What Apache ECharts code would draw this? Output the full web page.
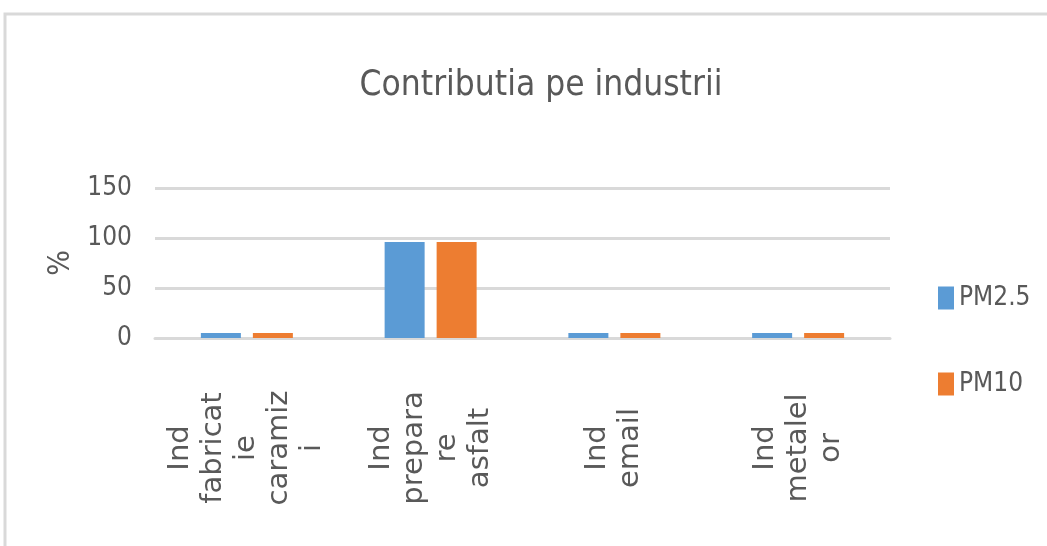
<!DOCTYPE html>
<html>
<head>
<meta charset="utf-8">
<script src="https://cdn.jsdelivr.net/npm/echarts@6/dist/echarts.min.js"></script>
<style>
  html, body { margin: 0; padding: 0; background: #fff; }
  #chart { width: 1047px; height: 546px; }
</style>
</head>
<body>
<div id="chart"></div>
<script>
// categorii (etichete pe mai multe randuri, ca in original)
const categories = [
	'Ind\nfabricat\nie\ncaramiz\ni',
	'Ind\nprepara\nre\nasfalt',
	'Ind\nemail',
	'Ind\nmetalel\nor'
];
const pm25 = [5, 96, 5, 5];
const pm10 = [5, 96, 5, 5];
const yTicks = [0, 50, 100, 150];

const chart = echarts.init(document.getElementById('chart'), null, { renderer: 'canvas' });

const narrow = '"Liberation Sans Narrow", "DejaVu Sans Condensed", sans-serif';

let option = {
	backgroundColor: '#fff',
	animation: false,
	title: {
		text: 'Contributia pe industrii',
		left: 'center',
		left: 536,
		textAlign: 'center',
		top: 63,
		textStyle: {
			fontFamily: narrow,
			fontWeight: 'normal',
			fontSize: 35,
			color: '#595959'
		}
	},
	graphic: [{
		type: 'rect',
		shape: { x: 5, y: 14, width: 1060, height: 560 },
		style: { fill: 'none', stroke: '#d9d9d9', lineWidth: 3 },
		silent: true
	}],
	legend: {
		orient: 'vertical',
		left: 933,
		top: 280,
		itemWidth: 16,
		itemHeight: 23,
		itemGap: 60,
		icon: 'rect',
		textStyle: {
			fontFamily: narrow,
			fontSize: 26,
			lineHeight: 23,
			color: '#595959'
		},
		data: ['PM2.5', 'PM10']
	},
	grid: {
		left: 155,
		right: 157,
		top: 188,
		bottom: 208,
		containLabel: false
	},
	xAxis: {
		type: 'category',
		data: categories,
		axisLine: { lineStyle: { color: '#d9d9d9', width: 3 } },
		axisTick: { show: false },
		axisLabel: {
			rotate: 90,
			align: 'center',
			verticalAlign: 'middle',
			margin: 110,
			interval: 0,
			fontFamily: 'DejaVu Sans',
			fontSize: 29,
			lineHeight: 33,
			color: '#595959'
		}
	},
	yAxis: {
		type: 'value',
		min: 0,
		max: yTicks[yTicks.length - 1],
		interval: 50,
		name: '%',
		nameLocation: 'middle',
		nameGap: 57,
		nameRotate: 90,
		nameTextStyle: {
			fontFamily: narrow,
			fontSize: 30,
			color: '#595959'
		},
		axisLine: { show: false },
		axisTick: { show: false },
		splitLine: { lineStyle: { color: '#d9d9d9', width: 3 } },
		axisLabel: {
			margin: 23,
			fontFamily: narrow,
			fontSize: 26,
			color: '#595959'
		}
	},
	series: [{
		name: 'PM2.5',
		type: 'bar',
		data: pm25,
		barWidth: 40,
		barGap: '30%',
		itemStyle: { color: '#5b9bd5' }
	}, {
		name: 'PM10',
		type: 'bar',
		data: pm10,
		barWidth: 40,
		barGap: '30%',
		itemStyle: { color: '#ed7d31' }
	}]
};

chart.setOption(option);
</script>
</body>
</html>
